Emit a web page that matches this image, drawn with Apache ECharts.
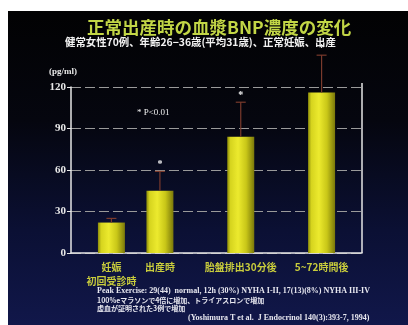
<!DOCTYPE html>
<html>
<head>
<meta charset="utf-8">
<script src="https://cdn.jsdelivr.net/npm/echarts@6/dist/echarts.min.js"></script>
<style>
  html, body { margin: 0; padding: 0; background: #ffffff; }
  #chart { width: 408px; height: 325px; }
</style>
</head>
<body>
<div id="chart"></div>
<script>
// Plasma BNP across normal delivery (mean + upper SD whisker)
const categories = ['妊娠\n初回受診時', '出産時', '胎盤排出30分後', '5~72時間後'];
const bnp = [22, 45, 84, 116];
const sdUpper = [3, 14, 25, 27];
const significant = [false, true, true, true];
const yTicks = [0, 30, 60, 90, 120];
const yUnit = '(pg/ml)';

// uneven group spacing along the x axis: each group sits in one of 18 slots
const slotCount = 18;
const slotOf = [2, 5, 10, 15];

const slotLabels = new Array(slotCount).fill('');
const slotValues = new Array(slotCount).fill(null);
slotOf.forEach((s, i) => { slotLabels[s] = categories[i]; slotValues[s] = bnp[i]; });
const errData = slotOf.map((s, i) => [s, bnp[i], bnp[i] + sdUpper[i], significant[i] ? 1 : 0]);

const JP = '"Noto Sans CJK JP", "Noto Sans", sans-serif';
const SERIF = '"Liberation Serif", "DejaVu Serif", "Noto Sans CJK JP", serif';

const chart = echarts.init(document.getElementById('chart'), null, { renderer: 'canvas' });

const barFill = new echarts.graphic.LinearGradient(0, 0, 1, 0, [
  { offset: 0, color: '#8c8c0a' },
  { offset: 0.12, color: '#d6d41e' },
  { offset: 0.4, color: '#ecea2e' },
  { offset: 0.7, color: '#c9c718' },
  { offset: 1, color: '#7a780a' }
]);

chart.setOption({
  backgroundColor: '#ffffff',
  animation: false,
  title: {
    text: '正常出産時の血漿BNP濃度の変化',
    left: 82,
    top: 14,
    textStyle: { color: '#c2d646', fontSize: 17.5, fontWeight: 'bold', fontFamily: JP }
  },
  graphic: [
    {
      type: 'rect', z: -10, silent: true,
      shape: { x: 8, y: 11, width: 400, height: 314 },
      style: {
        fill: new echarts.graphic.LinearGradient(0, 0, 0, 1, [
          { offset: 0, color: '#020203' },
          { offset: 0.35, color: '#05060f' },
          { offset: 0.7, color: '#0b1034' },
          { offset: 1, color: '#11174a' }
        ])
      }
    },
    {
      type: 'text', left: 65, top: 37,
      style: { text: '健常女性70例、年齢26−36歳(平均31歳)、正常妊娠、出産', fill: '#f2f2f2',
               font: 'bold 10.4px ' + JP }
    },
    {
      type: 'text', left: 49, top: 67,
      style: { text: yUnit, fill: '#e8e8e8', font: 'bold 9px ' + SERIF }
    },
    {
      type: 'text', left: 137, top: 108,
      style: { text: '* P<0.01', fill: '#f0f0f0', font: '9px ' + SERIF }
    },
    {
      type: 'text', left: 97, top: 287,
      style: { text: 'Peak Exercise: 29(44)  normal, 12h (30%) NYHA I-II, 17(13)(8%) NYHA III-IV',
               fill: '#e8e8f0', font: 'bold 8px ' + SERIF }
    },
    {
      type: 'text', left: 97, top: 297,
      style: { text: '100%eマラソンで4倍に増加、トライアスロンで増加', fill: '#e8e8f0', font: 'bold 7px ' + JP }
    },
    {
      type: 'text', left: 97, top: 305,
      style: { text: '虚血が証明された3例で増加', fill: '#e8e8f0', font: 'bold 7px ' + JP }
    },
    {
      type: 'text', left: 188, top: 314,
      style: { text: '(Yoshimura T et al.  J Endocrinol 140(3):393-7, 1994)', fill: '#e8e8f0',
               font: 'bold 8px ' + SERIF }
    },
    {
      // right frame of the plot area
      type: 'line', z: 5,
      shape: { x1: 362, y1: 83, x2: 362, y2: 253 },
      style: { stroke: '#e6e6e6', lineWidth: 1.5 }
    }
  ],
  grid: { left: 71, right: 46, top: 87, bottom: 72 },
  xAxis: {
    type: 'category',
    data: slotLabels,
    boundaryGap: true,
    axisLine: { lineStyle: { color: '#e6e6e6', width: 1.5 } },
    axisTick: { show: false },
    axisLabel: {
      interval: 0,
      margin: 7,
      color: '#c8cc3c',
      fontSize: 10,
      fontWeight: 'bold',
      fontFamily: JP,
      lineHeight: 14,
      align: 'center'
    }
  },
  yAxis: {
    type: 'value',
    min: 0,
    max: 120,
    interval: 30,
    axisLine: { show: true, lineStyle: { color: '#e6e6e6', width: 1.5 } },
    axisTick: { show: true, length: 4, lineStyle: { color: '#e6e6e6' } },
    axisLabel: {
      color: '#e8e8e8', fontSize: 11, fontWeight: 'bold', fontFamily: SERIF, margin: 5,
      formatter: v => (yTicks.includes(v) ? String(v) : '')
    },
    splitLine: { show: true, lineStyle: { color: '#9a9a9a', width: 1, type: [10, 4] } }
  },
  series: [
    {
      type: 'bar',
      data: slotValues,
      barWidth: 27,
      itemStyle: { color: barFill },
      z: 3
    },
    {
      type: 'custom',
      data: errData,
      clip: false,
      z: 4,
      renderItem: function (params, api) {
        const base = api.coord([api.value(0), api.value(1)]);
        const top = api.coord([api.value(0), api.value(2)]);
        const children = [
          { type: 'line', shape: { x1: top[0], y1: base[1], x2: top[0], y2: top[1] },
            style: { stroke: '#7a3a2c', lineWidth: 1.2 } },
          { type: 'line', shape: { x1: top[0] - 5, y1: top[1], x2: top[0] + 5, y2: top[1] },
            style: { stroke: '#7a3a2c', lineWidth: 1.2 } }
        ];
        if (api.value(3)) {
          children.push({
            type: 'text',
            style: { text: '*', x: top[0], y: top[1] - 2, fill: '#f4f4f4',
                     font: 'bold 10px ' + SERIF, align: 'center', verticalAlign: 'bottom' }
          });
        }
        return { type: 'group', children: children };
      }
    }
  ]
});
</script>
</body>
</html>
